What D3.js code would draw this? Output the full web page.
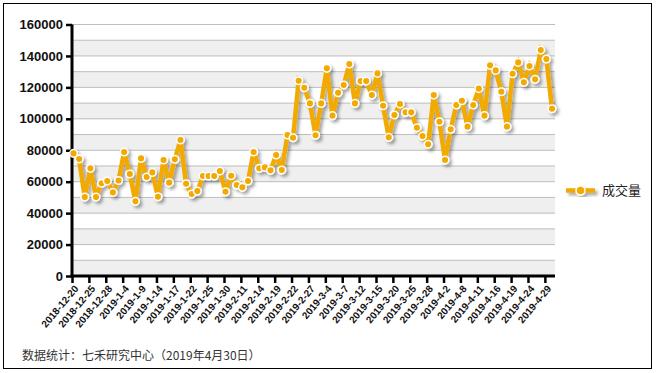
<!DOCTYPE html>
<html>
<head>
<meta charset="utf-8">
<script src="https://cdn.jsdelivr.net/npm/d3@7"></script>
<style>
  body { margin: 0; background: #fff; }
  svg { display: block; }
</style>
</head>
<body>
<div id="chart"></div>
<script>
// trading days shown on the x axis (every 3rd one gets a label)
const dates = [
  "2018-12-20", "2018-12-21", "2018-12-24", "2018-12-25", "2018-12-26", "2018-12-27", "2018-12-28",
  "2019-1-2", "2019-1-3", "2019-1-4", "2019-1-7", "2019-1-8", "2019-1-9", "2019-1-10", "2019-1-11",
  "2019-1-14", "2019-1-15", "2019-1-16", "2019-1-17", "2019-1-18", "2019-1-21", "2019-1-22", "2019-1-23",
  "2019-1-24", "2019-1-25", "2019-1-28", "2019-1-29", "2019-1-30", "2019-1-31",
  "2019-2-1", "2019-2-11", "2019-2-12", "2019-2-13", "2019-2-14", "2019-2-15", "2019-2-18", "2019-2-19",
  "2019-2-20", "2019-2-21", "2019-2-22", "2019-2-25", "2019-2-26", "2019-2-27", "2019-2-28",
  "2019-3-1", "2019-3-4", "2019-3-5", "2019-3-6", "2019-3-7", "2019-3-8", "2019-3-11", "2019-3-12",
  "2019-3-13", "2019-3-14", "2019-3-15", "2019-3-18", "2019-3-19", "2019-3-20", "2019-3-21", "2019-3-22",
  "2019-3-25", "2019-3-26", "2019-3-27", "2019-3-28", "2019-3-29",
  "2019-4-1", "2019-4-2", "2019-4-3", "2019-4-4", "2019-4-8", "2019-4-9", "2019-4-10", "2019-4-11",
  "2019-4-12", "2019-4-15", "2019-4-16", "2019-4-17", "2019-4-18", "2019-4-19", "2019-4-22", "2019-4-23",
  "2019-4-24", "2019-4-25", "2019-4-26", "2019-4-29", "2019-4-30"
];

// 成交量
const volume = [
  78000, 74400, 50200, 68500, 50200, 59000, 60400, 53200, 60800, 78900,
  64900, 47500, 74800, 63000, 65900, 50400, 73800, 59400, 74200, 86500,
  58700, 52200, 54000, 63600, 63600, 63600, 66800, 53600, 63800, 57900,
  56400, 60400, 78900, 68500, 69100, 67200, 77000, 67400, 89700, 88000,
  124200, 119800, 109800, 89500, 109800, 132100, 102000, 116600, 121500, 134800,
  109800, 124000, 124000, 115100, 128900, 108300, 88200, 102400, 109400, 104100,
  104100, 94300, 89000, 83800, 115100, 98100, 73800, 93300, 108800, 111500,
  95000, 108800, 119200, 102000, 134000, 130800, 117200, 95000, 128700, 135900,
  123200, 133600, 125100, 143700, 138000, 106400
];

const yTicks = [0, 20000, 40000, 60000, 80000, 100000, 120000, 140000, 160000];
const seriesName = "成交量";
const footnote = "数据统计：七禾研究中心（2019年4月30日）";

const width = 656;
const height = 373;
const plotLeft = 72;
const plotRight = 555;
const plotTop = 24.5;
const plotBottom = 276;
const orange = "#f2a900";

const svg = d3.select("#chart").append("svg").attr("width", width).attr("height", height);

// drop shadow used by the line, the dots and the legend
const defs = svg.append("defs");
defs.append("filter")
  .attr("id", "shadow")
  .attr("x", "-20%").attr("y", "-20%").attr("width", "140%").attr("height", "140%")
  .append("feDropShadow")
  .attr("dx", 2.5).attr("dy", 2.5)
  .attr("stdDeviation", 1.4)
  .attr("flood-color", "#000")
  .attr("flood-opacity", 0.35);

// outer frame
svg.append("rect")
  .attr("x", 3.5).attr("y", 3.5)
  .attr("width", 648).attr("height", 365)
  .attr("fill", "none").attr("stroke", "#000").attr("stroke-width", 1);

const x = d3.scalePoint().domain(dates).range([plotLeft + 1.5, 552]);
const y = d3.scaleLinear().domain([0, 160000]).range([plotBottom, plotTop]);

// alternating bands every 10000, white on top
const bandEdges = d3.range(0, 160000, 10000);
svg.append("g")
  .selectAll("rect")
  .data(bandEdges)
  .join("rect")
  .attr("x", plotLeft)
  .attr("width", plotRight - plotLeft)
  .attr("y", (d) => y(d + 10000))
  .attr("height", (d) => y(d) - y(d + 10000))
  .attr("fill", (d, i) => (i % 2 === 0 ? "#efefef" : "#fff"));

// grid lines
svg.append("g")
  .selectAll("line")
  .data(d3.range(10000, 160001, 10000))
  .join("line")
  .attr("x1", plotLeft).attr("x2", plotRight)
  .attr("y1", (d) => y(d)).attr("y2", (d) => y(d))
  .attr("stroke", "#bdbdbd").attr("stroke-width", 1);

// y axis
const yAxis = svg.append("g")
  .attr("transform", `translate(${plotLeft},0)`)
  .call(d3.axisLeft(y).tickValues(yTicks).tickFormat(d3.format("d")).tickSize(6).tickSizeOuter(0).tickPadding(3));
yAxis.select(".domain").remove();
yAxis.selectAll(".tick line").attr("stroke", "#000").attr("stroke-width", 2.5);
yAxis.selectAll(".tick text")
  .attr("fill", "#111")
  .style("font", "bold 13px 'Liberation Sans', Arial, sans-serif");

// x axis, labels on every third day
const xAxis = svg.append("g")
  .attr("transform", `translate(0,${plotBottom})`)
  .call(d3.axisBottom(x).tickValues(dates.filter((d, i) => i % 3 === 0)).tickSize(7).tickSizeOuter(0));
xAxis.select(".domain").remove();
xAxis.selectAll(".tick line")
  .attr("stroke", "#000").attr("stroke-width", 2.5)
  .attr("transform", "translate(-1.5,0)");
xAxis.selectAll(".tick text")
  .attr("fill", "#111")
  .style("font", "bold 10px 'Liberation Sans', Arial, sans-serif")
  .attr("text-anchor", "end")
  .attr("dy", null)
  .attr("y", 0)
  .attr("transform", "translate(5,13) rotate(-50)");

// axis lines
svg.append("line")
  .attr("x1", plotLeft).attr("x2", plotLeft)
  .attr("y1", plotTop).attr("y2", plotBottom + 1)
  .attr("stroke", "#000").attr("stroke-width", 3);
svg.append("line")
  .attr("x1", plotLeft - 1.5).attr("x2", plotRight)
  .attr("y1", plotBottom).attr("y2", plotBottom)
  .attr("stroke", "#000").attr("stroke-width", 3);

// series line + dots
const series = dates.map((d, i) => [d, volume[i]]);
const line = d3.line().x((d) => x(d[0])).y((d) => y(d[1]));

const chartG = svg.append("g").attr("filter", "url(#shadow)");
chartG.append("path")
  .datum(series)
  .attr("d", line)
  .attr("fill", "none")
  .attr("stroke", orange)
  .attr("stroke-width", 4.5)
  .attr("stroke-linejoin", "miter")
  .attr("stroke-miterlimit", 3);

chartG.append("g")
  .selectAll("circle")
  .data(series)
  .join("circle")
  .attr("cx", (d) => x(d[0]))
  .attr("cy", (d) => y(d[1]))
  .attr("r", 3.8)
  .attr("fill", orange)
  .attr("stroke", "#fff")
  .attr("stroke-width", 1.5);

// legend
const legend = svg.append("g").attr("transform", "translate(566,190.5)");
const legendMark = legend.append("g").attr("filter", "url(#shadow)");
legendMark.append("line")
  .attr("x1", 0).attr("x2", 29)
  .attr("stroke", orange).attr("stroke-width", 4.5);
legendMark.append("circle")
  .attr("cx", 14.5).attr("r", 4.5)
  .attr("fill", orange).attr("stroke", "#fff").attr("stroke-width", 1.5);
legend.append("text")
  .attr("x", 36).attr("y", 4.5)
  .attr("fill", "#222")
  .style("font", "13px 'Noto Sans CJK SC', sans-serif")
  .text(seriesName);

// footnote
svg.append("text")
  .attr("x", 22).attr("y", 359.5)
  .attr("fill", "#333")
  .style("font", "12px 'Noto Sans CJK SC', sans-serif")
  .text(footnote);
</script>
</body>
</html>
